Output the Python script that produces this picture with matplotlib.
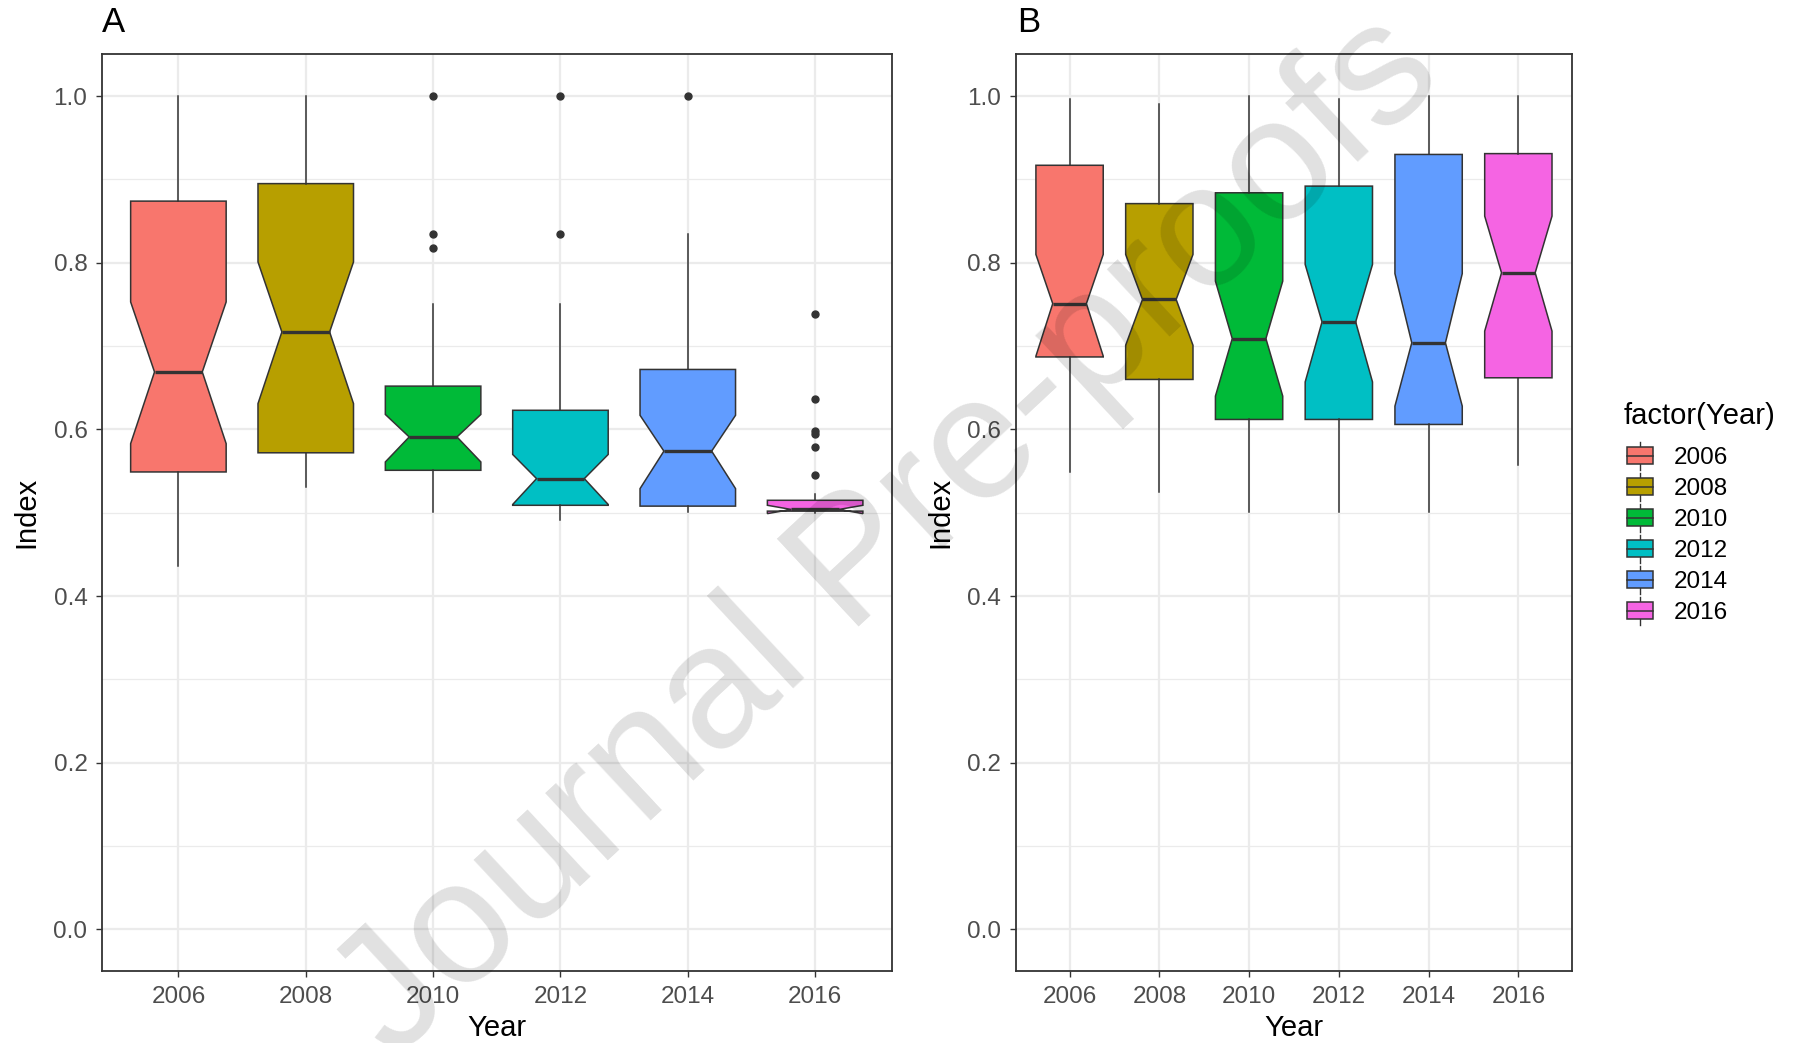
import matplotlib
matplotlib.use('Agg')
import matplotlib.pyplot as plt
from matplotlib.patches import Rectangle, Patch
from matplotlib.lines import Line2D
from matplotlib.legend_handler import HandlerBase

plt.rcParams['font.family'] = ['Liberation Sans', 'DejaVu Sans']

YEARS = ['2006', '2008', '2010', '2012', '2014', '2016']
COLORS = ['#F8766D', '#B79F00', '#00BA38', '#00BFC4', '#619CFF', '#F564E3']

# panel A - box statistics
A_WHISLO = [0.436, 0.531, 0.501, 0.491, 0.501, 0.500]
A_Q1     = [0.549, 0.572, 0.551, 0.509, 0.508, 0.502]
A_CILO   = [0.583, 0.631, 0.561, 0.510, 0.529, 0.499]
A_MED    = [0.669, 0.717, 0.591, 0.541, 0.574, 0.504]
A_CIHI   = [0.753, 0.801, 0.618, 0.570, 0.617, 0.509]
A_Q3     = [0.874, 0.895, 0.652, 0.623, 0.672, 0.515]
A_WHISHI = [1.000, 1.000, 0.751, 0.751, 0.834, 0.523]
A_FLIERS = [[], [], [1.0, 0.834, 0.818], [1.0, 0.834], [1.0],
            [0.739, 0.637, 0.598, 0.595, 0.579, 0.545]]

# panel B
B_WHISLO = [0.549, 0.525, 0.501, 0.501, 0.501, 0.557]
B_Q1     = [0.687, 0.660, 0.612, 0.612, 0.606, 0.662]
B_CILO   = [0.688, 0.701, 0.640, 0.657, 0.628, 0.718]
B_MED    = [0.751, 0.756, 0.709, 0.729, 0.704, 0.788]
B_CIHI   = [0.810, 0.810, 0.778, 0.798, 0.787, 0.856]
B_Q3     = [0.917, 0.871, 0.884, 0.892, 0.930, 0.931]
B_WHISHI = [0.997, 0.991, 1.000, 0.997, 1.000, 1.000]
B_FLIERS = [[], [], [], [], [], []]

DARK = '#333333'


class BoxKey(HandlerBase):
    """ggplot-like boxplot legend key"""
    def create_artists(self, legend, orig_handle, xdescent, ydescent,
                       width, height, fontsize, trans):
        x0, y0 = -xdescent, -ydescent
        vline = Line2D([x0 + width / 2] * 2, [y0 - 0.1 * height, y0 + 1.1 * height],
                       color=DARK, lw=1.0, transform=trans)
        box = Rectangle((x0, y0 + 0.12 * height), width, 0.76 * height,
                        facecolor=orig_handle.get_facecolor(), edgecolor=DARK,
                        lw=1.1, transform=trans)
        med = Line2D([x0, x0 + width], [y0 + height / 2] * 2,
                     color=DARK, lw=1.1, transform=trans)
        return [vline, box, med]


def make_stats(whislo, q1, cilo, med, cihi, q3, whishi, fliers):
    stats = []
    for i in range(len(YEARS)):
        stats.append({'whislo': whislo[i], 'q1': q1[i], 'cilo': cilo[i],
                      'med': med[i], 'cihi': cihi[i], 'q3': q3[i],
                      'whishi': whishi[i], 'fliers': fliers[i]})
    return stats


def draw_panel(ax, stats):
    bp = ax.bxp(stats, positions=range(1, len(YEARS) + 1), widths=0.75,
                shownotches=True, showcaps=False, patch_artist=True,
                boxprops=dict(edgecolor=DARK, linewidth=1.1),
                medianprops=dict(color=DARK, linewidth=2.4),
                whiskerprops=dict(color=DARK, linewidth=1.1),
                flierprops=dict(marker='o', markerfacecolor=DARK,
                                markeredgecolor=DARK, markersize=5))
    for patch, c in zip(bp['boxes'], COLORS):
        patch.set_facecolor(c)

    ax.set_xlim(0.4, len(YEARS) + 0.6)
    ax.set_ylim(-0.05, 1.05)
    ax.set_xticks(range(1, len(YEARS) + 1))
    ax.set_xticklabels(YEARS)
    ax.set_yticks([0, 0.2, 0.4, 0.6, 0.8, 1.0])
    ax.set_yticklabels(['0.0', '0.2', '0.4', '0.6', '0.8', '1.0'])
    ax.set_yticks([0.1, 0.3, 0.5, 0.7, 0.9], minor=True)
    ax.set_axisbelow(True)
    ax.grid(which='major', color='#EBEBEB', linewidth=1.6)
    ax.grid(which='minor', axis='y', color='#EBEBEB', linewidth=0.9)
    ax.tick_params(which='major', length=4, width=1.0, color=DARK,
                   labelcolor='#4D4D4D', labelsize=17.5, pad=6.5)
    ax.tick_params(which='minor', length=0)
    for s in ax.spines.values():
        s.set_color(DARK)
        s.set_linewidth(1.3)
    ax.set_xlabel('Year', fontsize=21)
    ax.set_ylabel('Index', fontsize=21)
    ax.xaxis.set_label_coords(0.5, -0.047)


fig = plt.figure(figsize=(18.18, 10.43), dpi=100)
axA = fig.add_axes([0.0561, 0.0689, 0.4343, 0.8789])
axB = fig.add_axes([0.5587, 0.0689, 0.3061, 0.8789])

draw_panel(axA, make_stats(A_WHISLO, A_Q1, A_CILO, A_MED, A_CIHI, A_Q3, A_WHISHI, A_FLIERS))
draw_panel(axB, make_stats(B_WHISLO, B_Q1, B_CILO, B_MED, B_CIHI, B_Q3, B_WHISHI, B_FLIERS))
axA.yaxis.set_label_coords(-0.078, 0.5)
axB.yaxis.set_label_coords(-0.110, 0.5)

fig.text(88 / 1568, 1 - 19 / 900, 'A', fontsize=25, ha='left', va='center')
fig.text(877 / 1568, 1 - 19 / 900, 'B', fontsize=25, ha='left', va='center')

# legend: title placed separately, entries below
fig.text(1400 / 1568, 1 - 359 / 900, 'factor(Year)', fontsize=21,
         ha='left', va='center')
handles = [Patch(facecolor=c, edgecolor=DARK) for c in COLORS]
fig.legend(handles, YEARS, handler_map={Patch: BoxKey()},
           fontsize=17.5, loc='upper left',
           bbox_to_anchor=(1403 / 1568, 1 - 383 / 900), frameon=False,
           borderpad=0, borderaxespad=0, handlelength=1.1, handleheight=1.1,
           labelspacing=0.25, handletextpad=0.85)

# watermark
fig.text(0.489, 0.485, 'Journal Pre-proofs', rotation=43, fontsize=126,
         color='black', alpha=0.12, ha='center', va='center',
         rotation_mode='anchor', zorder=10)

fig.savefig('out.png', dpi=100)
